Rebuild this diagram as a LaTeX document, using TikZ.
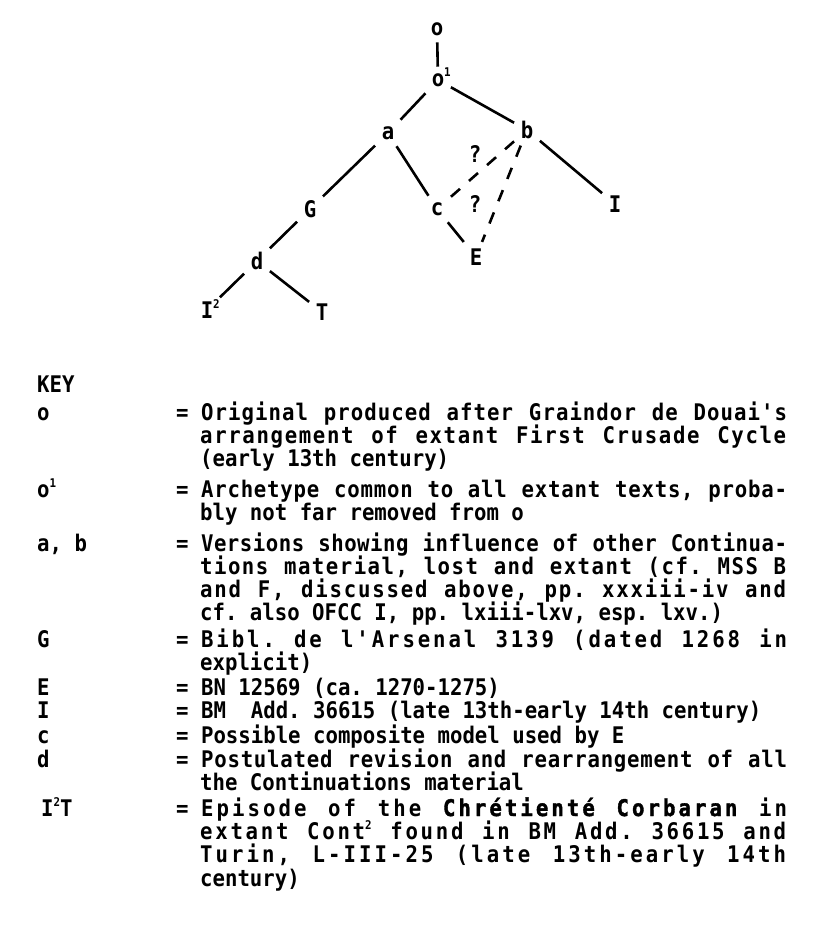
\documentclass[tikz,border=0pt]{standalone}
\usepackage{fontspec}
\newfontfamily\tw[FakeStretch=0.903, UprightFont={* Bold}, BoldFont={* Bold}, BoldFeatures={FakeBold=1.6}]{DejaVu Sans Mono}
\newcommand\twsize{\fontsize{22.9pt}{23pt}\selectfont\frenchspacing}
\newcommand\sups[1]{\raisebox{0.42em}{\fontsize{12pt}{12pt}\selectfont #1}}
\newcommand\jrest[2]{\makebox[586pt][s]{\addfontfeature{LetterSpace=#1}\spaceskip=12.45pt plus 40pt\relax #2}}
\newcommand\jfirst[2]{=\ \jrest{#1}{#2}}
\tikzset{
  ms/.style={font=\tw\twsize, inner sep=6.5pt},
  stemma/.style={line width=2.6pt},
  guess/.style={stemma, dash pattern=on 12pt off 12pt},
  keyline/.style={font=\tw\twsize, anchor=base west, inner sep=0pt}
}
\begin{document}
\begin{tikzpicture}[x=1pt, y=-1pt]
                \useasboundingbox (0,0) rectangle (825,927);
                \fill [white] (0,0) rectangle (825,927);

                \node [ms] (o) at (437,29) {o};
                \node [ms] (oi) at (438,80) {o\rlap{\smash{\sups{1}}}};
                \node [ms] (a) at (388,133) {a};
                \node [ms] (b) at (527,130) {b};
                \node [ms] (G) at (310,209) {G};
                \node [ms] (c) at (437,209) {c};
                \node [ms] (I) at (615,204) {I};
                \node [ms] (E) at (476,257) {E};
                \node [ms] (d) at (257,261) {d};
                \node [ms] (Ii) at (207,310) {I\rlap{\smash{\sups{2}}}};
                \node [ms] (T) at (322,312) {T};
                \node [ms] (q1) at (475,154) {?};
                \node [ms] (q2) at (475,204) {?};

                \draw [stemma] (o) -- (oi);
                \draw [stemma] (oi) -- (a);
                \draw [stemma] (oi) -- (b);
                \draw [stemma] (a) -- (G);
                \draw [stemma] (a) -- (c);
                \draw [stemma] (b) -- (I);
                \draw [stemma] (c) -- (E);
                \draw [stemma] (G) -- (d);
                \draw [stemma] (d) -- (Ii);
                \draw [stemma] (d) -- (T);
                \draw [guess] (b) -- (c);
                \draw [guess] (b) -- (E);

                \node [keyline] (key) at (37,392) {KEY};
                \node [keyline] (ko) at (37,420) {o};
                \node [keyline] (ko1) at (176,420) {\jfirst{4.6}{Original produced after Graindor de Douai's}};
                \node [keyline] (ko2) at (200,443) {\jrest{7.2}{arrangement of extant First Crusade Cycle}};
                \node [keyline] (ko3) at (200,466) {(early 13th century)};
                \node [keyline] (koi) at (37,497) {o\sups{1}};
                \node [keyline] (koi1) at (176,497) {\jfirst{3.4}{Archetype common to all extant texts, proba-}};
                \node [keyline] (koi2) at (200,520) {bly not far removed from o};
                \node [keyline] (kab) at (37,551) {a, b};
                \node [keyline] (kab1) at (176,551) {\jfirst{2.2}{Versions showing influence of other Continua-}};
                \node [keyline] (kab2) at (200,574) {\jrest{6.5}{tions material, lost and extant (cf. MSS B}};
                \node [keyline] (kab3) at (200,597) {\jrest{7.9}{and F, discussed above, pp. xxxiii-iv and}};
                \node [keyline] (kab4) at (200,620) {cf. also OFCC I, pp. lxiii-lxv, esp. lxv.)};
                \node [keyline] (kG) at (37,647) {G};
                \node [keyline] (kG1) at (176,647) {\jfirst{12.7}{Bibl. de l'Arsenal 3139 (dated 1268 in}};
                \node [keyline] (kG2) at (200,670) {explicit)};
                \node [keyline] (kE) at (37,695) {E};
                \node [keyline] (kE1) at (176,695) {= BN 12569 (ca. 1270-1275)};
                \node [keyline] (kI) at (37,718) {I};
                \node [keyline] (kI1) at (176,718) {= BM\ \ Add. 36615 (late 13th-early 14th century)};
                \node [keyline] (kc) at (37,743) {c};
                \node [keyline] (kc1) at (176,743) {= Possible composite model used by E};
                \node [keyline] (kd) at (37,767) {d};
                \node [keyline] (kd1) at (176,767) {\jfirst{3.4}{Postulated revision and rearrangement of all}};
                \node [keyline] (kd2) at (200,790) {the Continuations material};
                \node [keyline] (kIT) at (41,816) {I\sups{2}T};
                \node [keyline] (kIT1) at (176,816) {\jfirst{13.3}{Episode of the {\bfseries Chrétienté Corbaran} in}};
                \node [keyline] (kIT2) at (200,839) {\jrest{11.9}{extant Cont\sups{2} found in BM Add. 36615 and}};
                \node [keyline] (kIT3) at (200,862) {\jrest{13.3}{Turin, L-III-25 (late 13th-early 14th}};
                \node [keyline] (kIT4) at (200,886) {century)};
            \end{tikzpicture}
\end{document}
